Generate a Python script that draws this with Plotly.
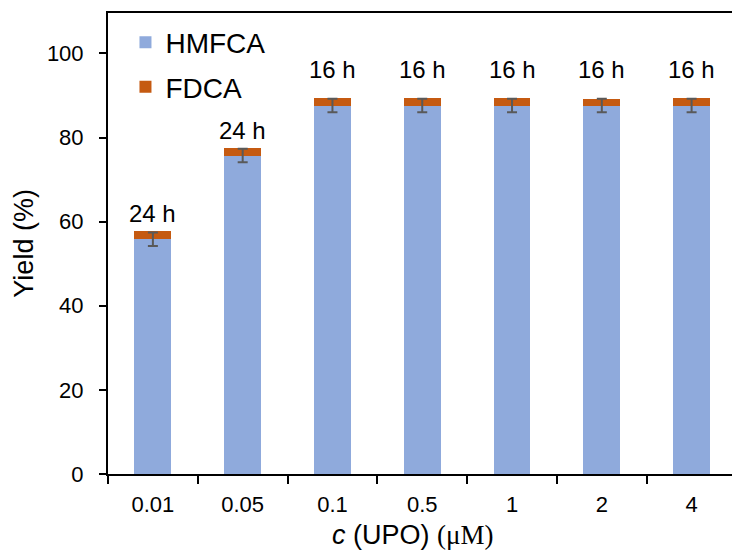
import plotly.graph_objects as go

# Enzyme loading (x categories) and product yields (%)
concentrations = ["0.01", "0.05", "0.1", "0.5", "1", "2", "4"]
hmfca_yield = [55.8, 75.7, 87.6, 87.6, 87.6, 87.6, 87.6]
fdca_yield = [1.9, 1.9, 1.9, 1.9, 1.9, 1.45, 1.9]
hmfca_err = [1.6, 1.6, 1.6, 1.6, 1.6, 1.6, 1.6]
reaction_time = ["24 h", "24 h", "16 h", "16 h", "16 h", "16 h", "16 h"]

FONT = "Liberation Sans, Arial, sans-serif"
SERIF = "Liberation Serif, Times New Roman, serif"
BLUE = "#8FAADC"
ORANGE = "#C55A11"

fig = go.Figure()
fig.add_trace(go.Bar(
    x=concentrations, y=hmfca_yield, name="HMFCA",
    marker=dict(color=BLUE, line=dict(width=0)),
    legendgroup="a",
))
fig.add_trace(go.Bar(
    x=concentrations, y=fdca_yield, name="FDCA",
    marker=dict(color=ORANGE, line=dict(width=0)),
    legendgroup="b",
))
# error bars drawn on top of the stacked bars
fig.add_trace(go.Scatter(
    x=concentrations, y=hmfca_yield, mode="markers",
    marker=dict(size=1, opacity=0),
    error_y=dict(type="data", array=hmfca_err, visible=True,
                 color="#595959", thickness=2, width=5),
    showlegend=False, hoverinfo="skip",
))

# reaction time labels: just above the shorter bars, on one common line
# for the bars that reach the plateau
PLATEAU = 85
LABEL_LINE = 92.6
for i, (h, f, t) in enumerate(zip(hmfca_yield, fdca_yield, reaction_time)):
    total = h + f
    fig.add_annotation(
        x=i, y=LABEL_LINE if total >= PLATEAU else total + 0.5,
        text=t, showarrow=False,
        xref="x", yref="y", yanchor="bottom",
        font=dict(family=FONT, size=24, color="#000000"),
    )

fig.add_annotation(
    text="Yield (%)", textangle=-90, showarrow=False,
    xref="paper", yref="paper", x=-0.136, y=0.5,
    xanchor="center", yanchor="middle",
    font=dict(family=FONT, size=27, color="#000000"),
)
fig.add_annotation(
    text="<i>c</i> (UPO) <span style='font-family:" + SERIF + "'>(μM)</span>",
    showarrow=False, xref="paper", yref="paper", x=0.488, y=-0.133,
    xanchor="center", yanchor="middle",
    font=dict(family=FONT, size=27, color="#000000"),
)

fig.update_layout(
    width=732, height=553,
    margin=dict(l=108, r=0, t=13, b=79),
    paper_bgcolor="white", plot_bgcolor="white",
    barmode="stack", bargap=0.59,
    font=dict(family=FONT, size=22, color="#000000"),
    legend=dict(
        x=0.028, y=0.99, xanchor="left", yanchor="top",
        traceorder="grouped", tracegroupgap=5,
        font=dict(family=FONT, size=28, color="#000000"),
        bgcolor="rgba(0,0,0,0)",
    ),
    xaxis=dict(
        type="category", range=[-0.5, 6.45],
        showline=True, linecolor="#000000", linewidth=2, mirror=True,
        ticks="outside", tickson="boundaries", ticklen=8, tickwidth=1.5,
        tickcolor="#000000", showgrid=False,
        tickfont=dict(family=FONT, size=22, color="#000000"),
        ticklabelstandoff=10,
    ),
    yaxis=dict(
        range=[0, 109.6], dtick=20, tick0=0,
        showline=True, linecolor="#000000", linewidth=2,
        ticks="outside", ticklen=7, tickwidth=1.5, tickcolor="#000000",
        showgrid=False, zeroline=False,
        tickfont=dict(family=FONT, size=22, color="#000000"),
        ticklabelstandoff=11,
    ),
)

fig.write_html("out.html")
